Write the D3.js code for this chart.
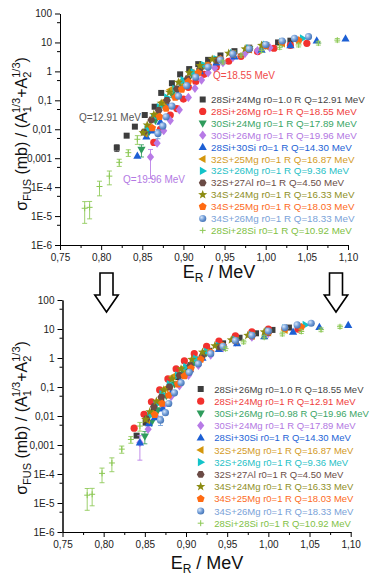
<!DOCTYPE html>
<html><head><meta charset="utf-8">
<script src="https://cdn.jsdelivr.net/npm/d3@7"></script>
<style>
body{margin:0;background:#fff}
svg{display:block;font-family:"Liberation Sans",Arial,sans-serif}
</style>
</head><body>
<svg id="c" width="375" height="576"></svg>
<script>
// ---------- axis ticks ----------
const xTicks = [0.75, 0.80, 0.85, 0.90, 0.95, 1.00, 1.05, 1.10];
const xTickLabels = ["0,75","0,80","0,85","0,90","0,95","1,00","1,05","1,10"];
const xMinor = [0.775, 0.825, 0.875, 0.925, 0.975, 1.025, 1.075];
const yTicks = [100, 10, 1, 0.1, 0.01, 0.001, 1e-4, 1e-5, 1e-6];
const yTickLabels = ["100","10","1","0,1","0,01","0,001","1E-4","1E-5","1E-6"];

// ---------- legend labels ----------
const topLabels = [
  "28Si+24Mg r0=1.0 R Q=12.91 MeV","28Si+26Mg r0=1 R Q=18.55 MeV","30Si+24Mg r0=1 R Q=17.89 MeV",
  "30Si+26Mg r0=1 R Q=19.96 MeV","28Si+30Si r0=1 R Q=14.30 MeV","32S+25Mg r0=1 R Q=16.87 MeV",
  "32S+26Mg r0=1 R Q=9.36 MeV","32S+27Al r0=1 R Q=4.50 MeV","34S+24Mg r0=1 R Q=16.33 MeV",
  "34S+25Mg r0=1 R Q=18.03 MeV","34S+26Mg r0=1 R Q=18.33 MeV","28Si+28Si r0=1 R Q=10.92 MeV"];
const bottomLabels = [
  "28Si+26Mg r0=1.0 R Q=18.55 MeV","28Si+24Mg r0=1 R Q=12.91 MeV","30Si+26Mg r0=0.98 R Q=19.96 MeV",
  "30Si+24Mg r0=1 R Q=17.89 MeV","28Si+30Si r0=1 R Q=14.30 MeV","32S+25Mg r0=1 R Q=16.87 MeV",
  "32S+26Mg r0=1 R Q=9.36 MeV","32S+27Al r0=1 R Q=4.50 MeV","34S+24Mg r0=1 R Q=16.33 MeV",
  "34S+25Mg r0=1 R Q=18.03 MeV","34S+26Mg r0=1 R Q=18.33 MeV","28Si+28Si r0=1 R Q=10.92 MeV"];

// ---------- data: top panel, series 1-4 ----------
const topS1E = [0.819,0.831,0.841,0.853,0.865,0.873,0.886,0.896,0.907,0.918,0.930,0.945,0.962,0.980,0.998,1.015,1.030];
const topS1Y = [0.0023,0.006,0.0123,0.031,0.06,0.18,0.39,0.79,1.2,1.78,2.5,3.55,5.0,6.6,8.3,10,11.5];
const topS1Err = [0.0006];
const topS2E = [0.864,0.872,0.884,0.892,0.900,0.906,0.915,0.925,0.940,0.955,0.970,0.990,1.010,1.030,1.050];
const topS2Y = [0.0035,0.010,0.031,0.052,0.11,0.28,0.45,0.79,1.41,2.24,3.3,4.8,6.3,7.9,9.3];
const topS2Err = [];
const topS3E = [0.849,0.858,0.866,0.876,0.886,0.897,0.910,0.925,0.940,0.960,0.980,1.000,1.020];
const topS3Y = [0.002,0.0079,0.02,0.063,0.16,0.35,0.79,1.58,2.6,4.2,6.0,7.9,9.5];
const topS3Err = [0.0009];
const topS4E = [0.860,0.868,0.876,0.884,0.895,0.906,0.914,0.922,0.930,0.938,0.948,0.960,0.975,0.990,1.005];
const topS4Y = [0.0011,0.0033,0.0089,0.02,0.047,0.126,0.26,0.5,0.89,1.32,2.0,3.0,4.2,5.2,6.6];
const topS4Err = [0.0009];

// ---------- data: bottom panel, series 1-4 ----------
const botS1E = [0.840,0.851,0.861,0.870,0.880,0.890,0.900,0.912,0.928,0.945,0.965,0.985,1.005,1.025];
const botS1Y = [0.0021,0.0059,0.018,0.035,0.1,0.22,0.45,0.89,1.78,3.2,5.0,7.1,9.3,11.2];
const botS1Err = [];
const botS2E = [0.837,0.849,0.858,0.868,0.878,0.888,0.898,0.910,0.925,0.940,0.960,0.980,1.000,1.036];
const botS2Y = [0.0038,0.0115,0.031,0.079,0.19,0.42,0.79,1.41,2.5,3.8,5.75,7.9,10,9.8];
const botS2Err = [];
const botS3E = [0.850,0.858,0.866,0.876,0.886,0.897,0.910,0.925,0.940,0.960,0.980,1.000];
const botS3Y = [0.002,0.0059,0.016,0.05,0.126,0.32,0.71,1.5,2.63,4.2,6.0,7.9];
const botS3Err = [0.0009];
const botS4E = [0.844,0.854,0.863,0.872,0.882,0.892,0.903,0.915,0.930,0.945,0.960,0.980,1.000];
const botS4Y = [0.0012,0.0035,0.01,0.022,0.047,0.11,0.25,0.56,1.26,2.24,3.55,5.25,7.1];
const botS4Err = [0.0009];

// ---------- data: series 5-12 (same in both panels) ----------
const s5E = [0.844,0.855,0.862,0.872,0.882,0.893,0.905,0.920,0.940,0.962,0.995,1.030,1.062,1.097];
const s5Y = [0.0012,0.0055,0.0089,0.018,0.063,0.16,0.4,1.0,2.0,3.2,5.5,7.9,11.5,13.5];
const s6E = [0.853,0.858,0.866,0.875,0.884,0.896,0.910,0.925,0.940,0.960,0.980,1.000,1.020];
const s6Y = [0.0072,0.0123,0.032,0.089,0.23,0.44,0.89,1.58,2.5,4.0,5.75,7.6,9.3];
const s7E = [0.856,0.864,0.871,0.880,0.890,0.900,0.912,0.925,0.940,0.960,0.980,1.000,1.020,1.045];
const s7Y = [0.01,0.025,0.058,0.126,0.25,0.5,0.95,1.66,2.63,4.3,6.3,8.5,10.5,13.8];
const s8E = [0.852,0.861,0.870,0.880,0.892,0.905,0.920,0.940,0.960,0.980,1.000];
const s8Y = [0.0079,0.021,0.045,0.1,0.25,0.56,1.2,2.4,4.0,5.75,7.6];
const s9E = [0.851,0.856,0.864,0.873,0.883,0.894,0.907,0.920,0.935,0.955,0.975,0.995];
const s9Y = [0.0076,0.014,0.032,0.079,0.19,0.42,0.89,1.58,2.63,4.2,6.0,7.9];
const s10E = [0.862,0.871,0.879,0.890,0.898,0.906,0.918,0.930,0.945,0.960,0.980,1.000,1.020,1.040];
const s10Y = [0.011,0.027,0.052,0.126,0.24,0.44,0.89,1.58,2.63,4.0,5.9,7.9,10,11.7];
const s11E = [0.869,0.875,0.879,0.886,0.894,0.904,0.915,0.930,0.945,0.960,0.980,1.000,1.020,1.035,1.052];
const s11Y = [0.0072,0.013,0.027,0.063,0.14,0.32,0.63,1.41,2.5,4.0,6.0,8.5,11.2,13.8,15.8];
const s11Err = [0.0025];
const s12E = [0.780,0.786,0.798,0.810,0.822,0.833,0.844,0.948,0.970,0.995,1.017,1.040,1.064,1.087];
const s12Y = [1.86e-5,2.0e-5,1.05e-4,2.4e-4,7.2e-4,1.55e-3,4.5e-3,2.1,3.6,5.2,6.8,8.2,9.5,12];
const s12Err = [1.3e-5,1.2e-5,0.55e-4,1.2e-4,2e-4,4e-4,1.5e-3,0.3,0.5,0.7,1.0,1.2,1.4,1.6];

// ---------- styles ----------
const styles = [
  {shape:"square",  fill:"#3d3d3d", text:"#454545"},
  {shape:"circle",  fill:"#f2312e", text:"#f03c3c"},
  {shape:"triDown", fill:"#2f9c5c", text:"#3aa566"},
  {shape:"diamond", fill:"#b77ae6", text:"#b277e2"},
  {shape:"triUp",   fill:"#1c5fd4", text:"#2463d6"},
  {shape:"triLeft", fill:"#d4960c", text:"#d39a1e"},
  {shape:"triRight",fill:"#12c3c9", text:"#1fbfc6"},
  {shape:"hexagon", fill:"#6b4b45", text:"#6a4c46"},
  {shape:"star",    fill:"#8c8c12", text:"#8f8f1f"},
  {shape:"pentagon",fill:"#ff6a12", text:"#fd6a22"},
  {shape:"sphere",  fill:"#6f9bd6", text:"#7aa2d8"},
  {shape:"plus",    fill:"#8cc854", text:"#7fbf45"}
];

const shared = [
  {E:s5E,Y:s5Y,err:[]},{E:s6E,Y:s6Y,err:[]},{E:s7E,Y:s7Y,err:[]},{E:s8E,Y:s8Y,err:[]},
  {E:s9E,Y:s9Y,err:[]},{E:s10E,Y:s10Y,err:[]},{E:s11E,Y:s11Y,err:s11Err},{E:s12E,Y:s12Y,err:s12Err}];
const topSeries = [
  {E:topS1E,Y:topS1Y,err:topS1Err},{E:topS2E,Y:topS2Y,err:topS2Err},
  {E:topS3E,Y:topS3Y,err:topS3Err},{E:topS4E,Y:topS4Y,err:topS4Err}].concat(shared);
const botSeries = [
  {E:botS1E,Y:botS1Y,err:botS1Err},{E:botS2E,Y:botS2Y,err:botS2Err},
  {E:botS3E,Y:botS3Y,err:botS3Err},{E:botS4E,Y:botS4Y,err:botS4Err}].concat(shared);

const svg = d3.select("#c");
const defs = svg.append("defs");
const grad = defs.append("radialGradient").attr("id","sph").attr("cx","35%").attr("cy","35%").attr("r","65%");
grad.append("stop").attr("offset","0%").attr("stop-color","#d6e6fa");
grad.append("stop").attr("offset","60%").attr("stop-color","#6f9bd6");
grad.append("stop").attr("offset","100%").attr("stop-color","#4a78b8");

function poly(n, r, rot){
  const p=[];
  for(let i=0;i<n;i++){const a=rot+i*2*Math.PI/n;p.push([r*Math.cos(a),r*Math.sin(a)]);}
  return "M"+p.map(q=>q[0].toFixed(2)+","+q[1].toFixed(2)).join("L")+"Z";
}
function starPath(ro, ri){
  const p=[];
  for(let i=0;i<10;i++){const a=-Math.PI/2+i*Math.PI/5;const r=i%2?ri:ro;p.push([r*Math.cos(a),r*Math.sin(a)]);}
  return "M"+p.map(q=>q[0].toFixed(2)+","+q[1].toFixed(2)).join("L")+"Z";
}
const paths = {
  square:"M-3,-3H3V3H-3Z",
  circle:"M3.6,0A3.6,3.6 0 1,1 -3.6,0A3.6,3.6 0 1,1 3.6,0Z",
  sphere:"M3.6,0A3.6,3.6 0 1,1 -3.6,0A3.6,3.6 0 1,1 3.6,0Z",
  triUp:"M0,-4.4L4.1,2.8L-4.1,2.8Z",
  triDown:"M0,4.4L4.1,-2.8L-4.1,-2.8Z",
  triLeft:"M-4.4,0L2.8,-4.1L2.8,4.1Z",
  triRight:"M4.4,0L-2.8,-4.1L-2.8,4.1Z",
  diamond:"M0,-4.6L3.6,0L0,4.6L-3.6,0Z",
  hexagon:poly(6,3.9,0),
  star:starPath(4.8,2.0),
  pentagon:poly(5,4.1,-Math.PI/2)
};

function drawMarker(g, st, px, py){
  if(st.shape==="plus"){
    g.append("path").attr("d",`M${px-3},${py}H${px+3}`).attr("stroke",st.fill).attr("stroke-width",1);
    g.append("path").attr("d",`M${px},${py-3}V${py+3}`).attr("stroke",st.fill).attr("stroke-width",1);
    return;
  }
  g.append("path").attr("d",paths[st.shape]).attr("transform",`translate(${px},${py})`)
    .attr("fill",st.shape==="sphere"?"url(#sph)":st.fill);
}

function drawPanel(o){
  const x = d3.scaleLinear().domain([0.75,1.10]).range([o.x0,o.x1]);
  const y = d3.scaleLog().domain([1e-6,100]).range([o.yb,o.yt]);
  const g = svg.append("g");

  g.append("g").attr("transform",`translate(0,${o.yb})`)
    .call(d3.axisBottom(x).tickValues(xTicks).tickFormat((d,i)=>xTickLabels[i]).tickSize(5).tickSizeOuter(0).tickPadding(4));
  g.append("g").attr("transform",`translate(0,${o.yb})`)
    .call(d3.axisBottom(x).tickValues(xMinor).tickFormat("").tickSize(3).tickSizeOuter(0));
  g.append("g").attr("transform",`translate(${o.x0},0)`)
    .call(d3.axisLeft(y).tickValues(yTicks).tickFormat((d,i)=>yTickLabels[i]).tickSize(5).tickSizeOuter(0).tickPadding(3));
  const yMinor = [];
  yTicks.slice(0,-1).forEach(t=>{ yMinor.push(t/2); });
  g.append("g").attr("transform",`translate(${o.x0},0)`)
    .call(d3.axisLeft(y).tickValues(yMinor).tickFormat("").tickSize(3).tickSizeOuter(0));
  g.selectAll(".domain").attr("stroke","#000").attr("stroke-width",1);
  g.selectAll(".tick line").attr("stroke","#000");
  g.selectAll(".tick text").attr("font-size","10px").attr("fill","#222").attr("font-family",'"Liberation Sans",Arial,sans-serif');

  o.series.forEach((s,si)=>{
    const st = styles[si];
    const sg = g.append("g");
    s.E.forEach((e,i)=>{
      const px = x(e), py = y(s.Y[i]);
      const er = s.err[i];
      if(er){
        const lo = Math.max(s.Y[i]-er, 1e-7), hi = s.Y[i]+er;
        sg.append("path").attr("d",`M${px},${y(hi)}V${y(lo)}M${px-2.5},${y(hi)}H${px+2.5}M${px-2.5},${y(lo)}H${px+2.5}`)
          .attr("stroke",st.fill).attr("stroke-width",1).attr("fill","none").attr("opacity",0.85);
      }
      drawMarker(sg, st, px, py);
    });
  });

  o.labels.forEach((lab,i)=>{
    const ly = o.ly0 + i*o.lstep;
    drawMarker(g, styles[i], o.lmx, ly);
    g.append("text").attr("x",o.ltx).attr("y",ly+3.5).attr("font-size",o.lfs+"px")
      .attr("fill",styles[i].text).text(lab);
  });

  const xt = g.append("text").attr("x",o.xtx).attr("y",o.xty).attr("text-anchor","middle").attr("fill","#111");
  xt.append("tspan").attr("font-size","18px").text("E");
  xt.append("tspan").attr("font-size","12px").attr("dy",4).text("R");
  xt.append("tspan").attr("font-size","18px").attr("dy",-4).text(" / MeV");

  const yt = g.append("text").attr("transform",`translate(27,${o.ytc}) rotate(-90)`).attr("text-anchor","middle").attr("fill","#111");
  yt.append("tspan").attr("font-size","16px").text("σ");
  yt.append("tspan").attr("font-size","11px").attr("dy",4).text("FUS");
  yt.append("tspan").attr("font-size","16px").attr("dy",-4).text(" (mb) / (A");
  yt.append("tspan").attr("font-size","11px").attr("dy",4).text("1");
  yt.append("tspan").attr("font-size","11px").attr("dy",-11).attr("dx",-6.1).text("1/3");
  yt.append("tspan").attr("font-size","16px").attr("dy",7).text("+A");
  yt.append("tspan").attr("font-size","11px").attr("dy",4).text("2");
  yt.append("tspan").attr("font-size","11px").attr("dy",-11).attr("dx",-6.1).text("1/3");
  yt.append("tspan").attr("font-size","16px").attr("dy",7).text(")");
  return {x,y,g};
}

const topPanel = drawPanel({x0:60,x1:348,yt:13.5,yb:245,series:topSeries,labels:topLabels,
  ly0:99.5,lstep:11.9,lmx:202.7,ltx:211,lfs:9.8,xtx:219,xty:278,ytc:134});
const botPanel = drawPanel({x0:62.5,x1:350.7,yt:300,yb:532,series:botSeries,labels:bottomLabels,
  ly0:389,lstep:12.2,lmx:200.7,ltx:214.3,lfs:9.5,xtx:207,xty:569,ytc:418});

const annot = [
  {t:"Q=12.91 MeV", c:"#555555", E:0.773, s:0.02},
  {t:"Q=18.55 MeV", c:"#f04a4a", E:0.936, s:0.55},
  {t:"Q=19.96 MeV", c:"#b37ae3", E:0.8266, s:0.000138}
];
annot.forEach(a=>{
  topPanel.g.append("text").attr("x",topPanel.x(a.E)).attr("y",topPanel.y(a.s)).attr("font-size","10px")
    .attr("fill",a.c).text(a.t);
});

function arrow(cx){
  const p = `M${cx-6.5},273H${cx+6.5}V295H${cx+11.7}L${cx},312L${cx-11.7},295H${cx-6.5}Z`;
  svg.append("path").attr("d",p).attr("fill","#fff").attr("stroke","#000").attr("stroke-width",1.6).attr("stroke-linejoin","miter");
}
arrow(106.5); arrow(336);
</script>
</body></html>
